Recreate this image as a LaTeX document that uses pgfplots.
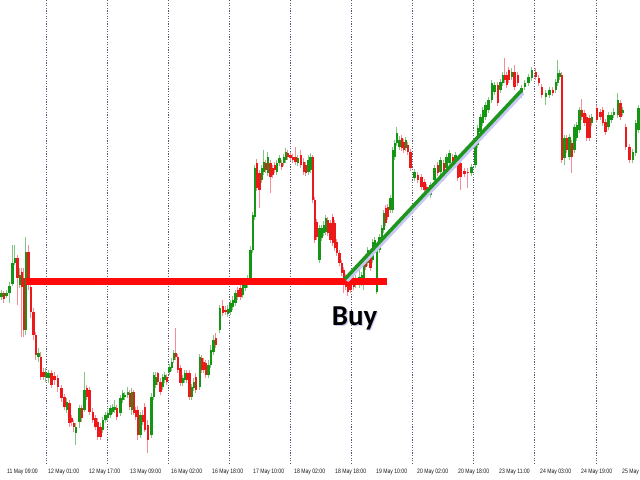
\documentclass[border=0pt]{standalone}
\usepackage{pgfplots}
\pgfplotsset{compat=1.18}
\usepackage{pgfplotstable}
\usepackage{fontspec}
\setmainfont{Liberation Sans}
\newfontfamily\tickfont[FakeStretch=0.8]{Liberation Sans}
\newfontfamily\buyfont{Carlito}
\definecolor{gridc}{RGB}{90,90,120}
\definecolor{linered}{RGB}{255,10,10}
\definecolor{linegreen}{RGB}{30,150,30}
\definecolor{shadow}{RGB}{200,200,245}
\definecolor{labc}{RGB}{25,25,25}
\pgfplotsset{
  colormap={body}{rgb255=(235,25,25) rgb255=(20,150,20)},
  colormap={wick}{rgb255=(245,140,150) rgb255=(130,200,130)},
}
\pgfplotstableread{
x o c h l
1.5 297 293 290 300
4 293 299 291 303
6.5 296 293 290 298
9.5 293 286 282 303
12.5 284 263 245 286
15 263 258 245 265
17.5 258 278 255 305
20 285 275 268 288
22 272 287 268 337
24 278 330 268 337
26 330 252 237 335
28.5 252 282 245 290
31 287 312 283 318
33.5 312 335 308 340
36 335 355 332 360
38.5 357 353 348 362
41 357 377 352 380
43.5 372 377 368 380
46 377 372 368 382
48.5 378 373 370 383
51.5 373 385 370 388
54.5 376 380 372 385
58 378 387 375 392
61.5 388 398 385 402
64.5 397 407 394 410
67 410 402 398 413
69.5 403 423 400 427
72 418 422 415 426
74 423 427 420 432
76 433 427 423 445
79.5 422 408 405 428
82 408 418 405 422
84.5 410 390 372 412
87 388 397 385 400
89.5 390 412 387 415
93 412 420 408 423
95.5 418 427 415 430
98 422 437 418 440
100.5 427 437 423 440
103 430 420 417 433
105.5 420 415 412 423
108 418 413 410 421
110.5 415 408 405 418
113 412 407 404 414
115 410 407 400 413
117 408 417 405 420
120.5 413 398 395 416
123 400 393 390 403
125 397 395 392 400
128 395 392 387 398
130 393 407 390 410
132 410 392 388 415
134 392 413 390 415
136 410 417 407 420
138 410 435 406 440
140.5 435 415 412 438
143 415 422 410 425
145 407 430 403 432
148 425 440 420 453
151.5 435 397 393 438
154 397 375 372 400
156 385 377 372 388
158 373 382 372 385
160.5 382 392 378 395
163 387 377 374 390
165 380 375 372 383
167 377 382 374 385
169.5 372 367 364 375
172 368 362 358 371
174 360 353 350 363
176 353 357 328 360
178 357 370 354 373
180.5 368 383 365 386
183 383 378 375 386
185 380 373 370 383
187 373 380 370 383
189.5 373 397 370 400
192 397 387 384 400
194 388 382 378 391
196 377 390 373 393
200 387 357 354 390
202 358 370 355 373
204 362 370 358 373
206 363 375 360 378
208.5 375 365 360 378
211 365 350 345 368
213.5 352 340 335 355
216 338 345 333 348
220 330 308 305 333
223 306 313 300 316
225.5 310 312 306 315
228 314 309 305 317
230.5 312 303 300 315
233 307 300 296 310
235.5 303 293 290 306
238 290 297 287 300
240.5 288 297 285 300
243 295 285 282 298
245.5 288 282 279 291
248 285 278 275 288
250.5 280 250 246 283
253 250 215 212 253
255 217 168 165 220
257 163 188 159 191
259.5 173 190 170 208
262 180 168 165 183
264 172 162 150 175
266 163 170 160 173
268 173 157 152 176
270.5 163 177 160 193
273 168 175 165 178
275 165 170 162 173
277 172 163 160 175
279.5 163 158 155 166
282 163 167 160 170
284 163 157 154 166
286 160 152 148 163
288 153 157 150 160
290.5 155 158 152 161
293 157 160 154 163
295.5 157 162 147 165
298 163 158 155 166
301 155 165 150 168
304 162 172 158 175
306 165 173 162 176
308.5 172 160 155 175
310.5 170 157 153 173
313 157 200 155 203
315 200 240 197 243
317 222 237 219 240
319.5 260 228 225 263
322 238 228 225 241
324 233 225 221 236
326 232 218 215 235
328 220 233 217 236
330.5 223 240 220 243
333 217 243 214 246
335 223 248 220 251
337 242 253 239 256
339.5 253 263 250 266
342 263 273 260 276
344 270 280 267 293
346 277 287 274 290
348 283 292 280 296
350.5 285 290 282 293
354 278 287 275 290
356 285 278 275 288
359.5 285 277 267 288
362 283 275 272 286
364 283 263 260 290
366 257 267 254 270
368 263 250 247 266
370.5 253 268 250 271
373 260 242 239 263
375 247 240 237 250
377 292 250 247 294
379.5 250 237 234 253
382 243 228 225 246
384 230 213 210 233
386 208 223 205 226
388 207 217 204 220
390.5 210 198 195 213
393 210 150 147 213
395 157 143 140 160
397 143 133 127 146
399.5 147 140 136 150
402 138 148 135 151
404 142 150 139 153
406 148 140 137 151
408 145 152 142 155
410.5 152 168 149 171
414.5 178 172 169 181
418 175 180 172 183
421.5 177 187 174 190
424.5 182 190 179 193
427 187 193 184 197
430.5 195 185 182 198
434.5 180 168 165 183
438 165 173 162 176
440.5 172 160 157 175
444 163 178 160 181
446.5 168 157 154 171
449.5 163 153 150 166
453 157 165 154 168
455.5 165 155 152 168
458 160 178 157 181
460.5 163 177 160 190
464.5 171 174 168 177
468 172 173 168 188
471.5 173 167 164 176
475.5 165 142 139 168
478 145 128 125 148
480.5 132 117 114 135
483 123 110 107 126
485.5 117 105 102 120
488.5 110 100 97 113
492 100 83 80 103
494.5 92 85 82 95
498 85 103 82 106
500.5 90 82 79 93
503 83 75 72 86
505 75 80 58 83
507 75 85 72 88
509 70 80 67 83
512 77 72 68 80
514.5 72 87 65 90
518 75 83 72 86
521.5 95 88 85 98
525 87 83 80 90
528.5 83 77 74 86
532 78 70 67 81
536 72 77 68 80
539 78 83 75 86
542 87 95 84 98
546 97 93 90 105
549.5 95 90 87 98
553 90 93 87 96
556 90 82 79 93
558 83 73 60 86
560 77 73 70 80
562 75 160 72 163
564.5 158 138 135 165
567 138 150 135 153
569.5 157 137 134 160
572 143 157 140 173
574.5 150 127 124 153
577 138 125 122 141
579.5 130 110 107 133
582 110 117 99 120
584.5 113 123 110 126
587 117 138 114 141
589.5 118 138 115 141
592 123 117 114 126
597 108 120 105 123
600.5 112 117 109 120
603 110 123 107 126
605.5 122 132 119 135
608.5 127 115 112 130
611.5 120 115 112 123
614 115 112 108 118
618 115 100 93 118
620.5 103 117 100 120
623 113 110 107 116
626 127 147 124 150
629.5 147 160 144 163
633 160 152 149 163
636 153 123 120 156
638.5 130 108 105 133
}\candles
\begin{document}
\begin{tikzpicture}
\begin{axis}[
  at={(-40bp,0bp)}, anchor=south west,
  scale only axis, width=720bp, height=465bp,
  xmin=-40, xmax=680, ymin=0, ymax=465, y dir=reverse,
  axis line style={draw=none},
  major tick length=0pt,
  ytick=\empty,
  xtick={-34,7,48,89,130,171,212,253,294,335,376,417,458,499,540,581,622},
  xticklabels={10 May 17:00,11 May 09:00,12 May 01:00,12 May 17:00,13 May 09:00,16 May 02:00,16 May 18:00,17 May 10:00,18 May 02:00,18 May 18:00,19 May 10:00,20 May 02:00,20 May 18:00,23 May 11:00,24 May 03:00,24 May 19:00,25 May 11:00},
  xticklabel style={anchor=north west, inner sep=0pt, yshift=-3.5bp, font=\tickfont\fontsize{6.4}{7}\selectfont, text=labc},
  extra x ticks={46,107.1,168.2,229.3,290.4,351.5,412.6,473.7,534.8,595.9},
  extra x tick labels={},
  extra x tick style={grid=major, major grid style={gridc, line width=0.7bp, dash pattern=on 1.3bp off 1.3bp}},
  point meta min=0, point meta max=1,
  clip=true,
]
\addplot[colormap name=wick, line width=1bp, point meta=explicit,
  quiver={u=0, v=\thisrow{l}-\thisrow{h}, colored=mapped color}]
  table[x=x, y=h, meta expr={\thisrow{o}>\thisrow{c}}] {\candles};
\addplot[colormap name=body, line width=2.3bp, point meta=explicit,
  quiver={u=0, v=\thisrow{c}-\thisrow{o}, colored=mapped color}]
  table[x=x, y=o, meta expr={\thisrow{o}>\thisrow{c}}] {\candles};
\addplot[linered, line width=7.5bp] coordinates {(26,281.5) (387,281.5)};
\addplot[shadow, line width=3.5bp] coordinates {(347,281) (523,93)};
\addplot[linegreen, line width=3.5bp] coordinates {(345,279) (521,91)};
\node[font=\buyfont\bfseries\fontsize{29}{29}\selectfont, anchor=base, text=shadow] at (axis cs:355.7,326.7) {Buy};
\node[font=\buyfont\bfseries\fontsize{29}{29}\selectfont, anchor=base, text=black] at (axis cs:354.5,325.5) {Buy};
\end{axis}
\pgfresetboundingbox
\path[use as bounding box] (0,-15bp) rectangle (640bp,465bp);
\end{tikzpicture}
\end{document}
